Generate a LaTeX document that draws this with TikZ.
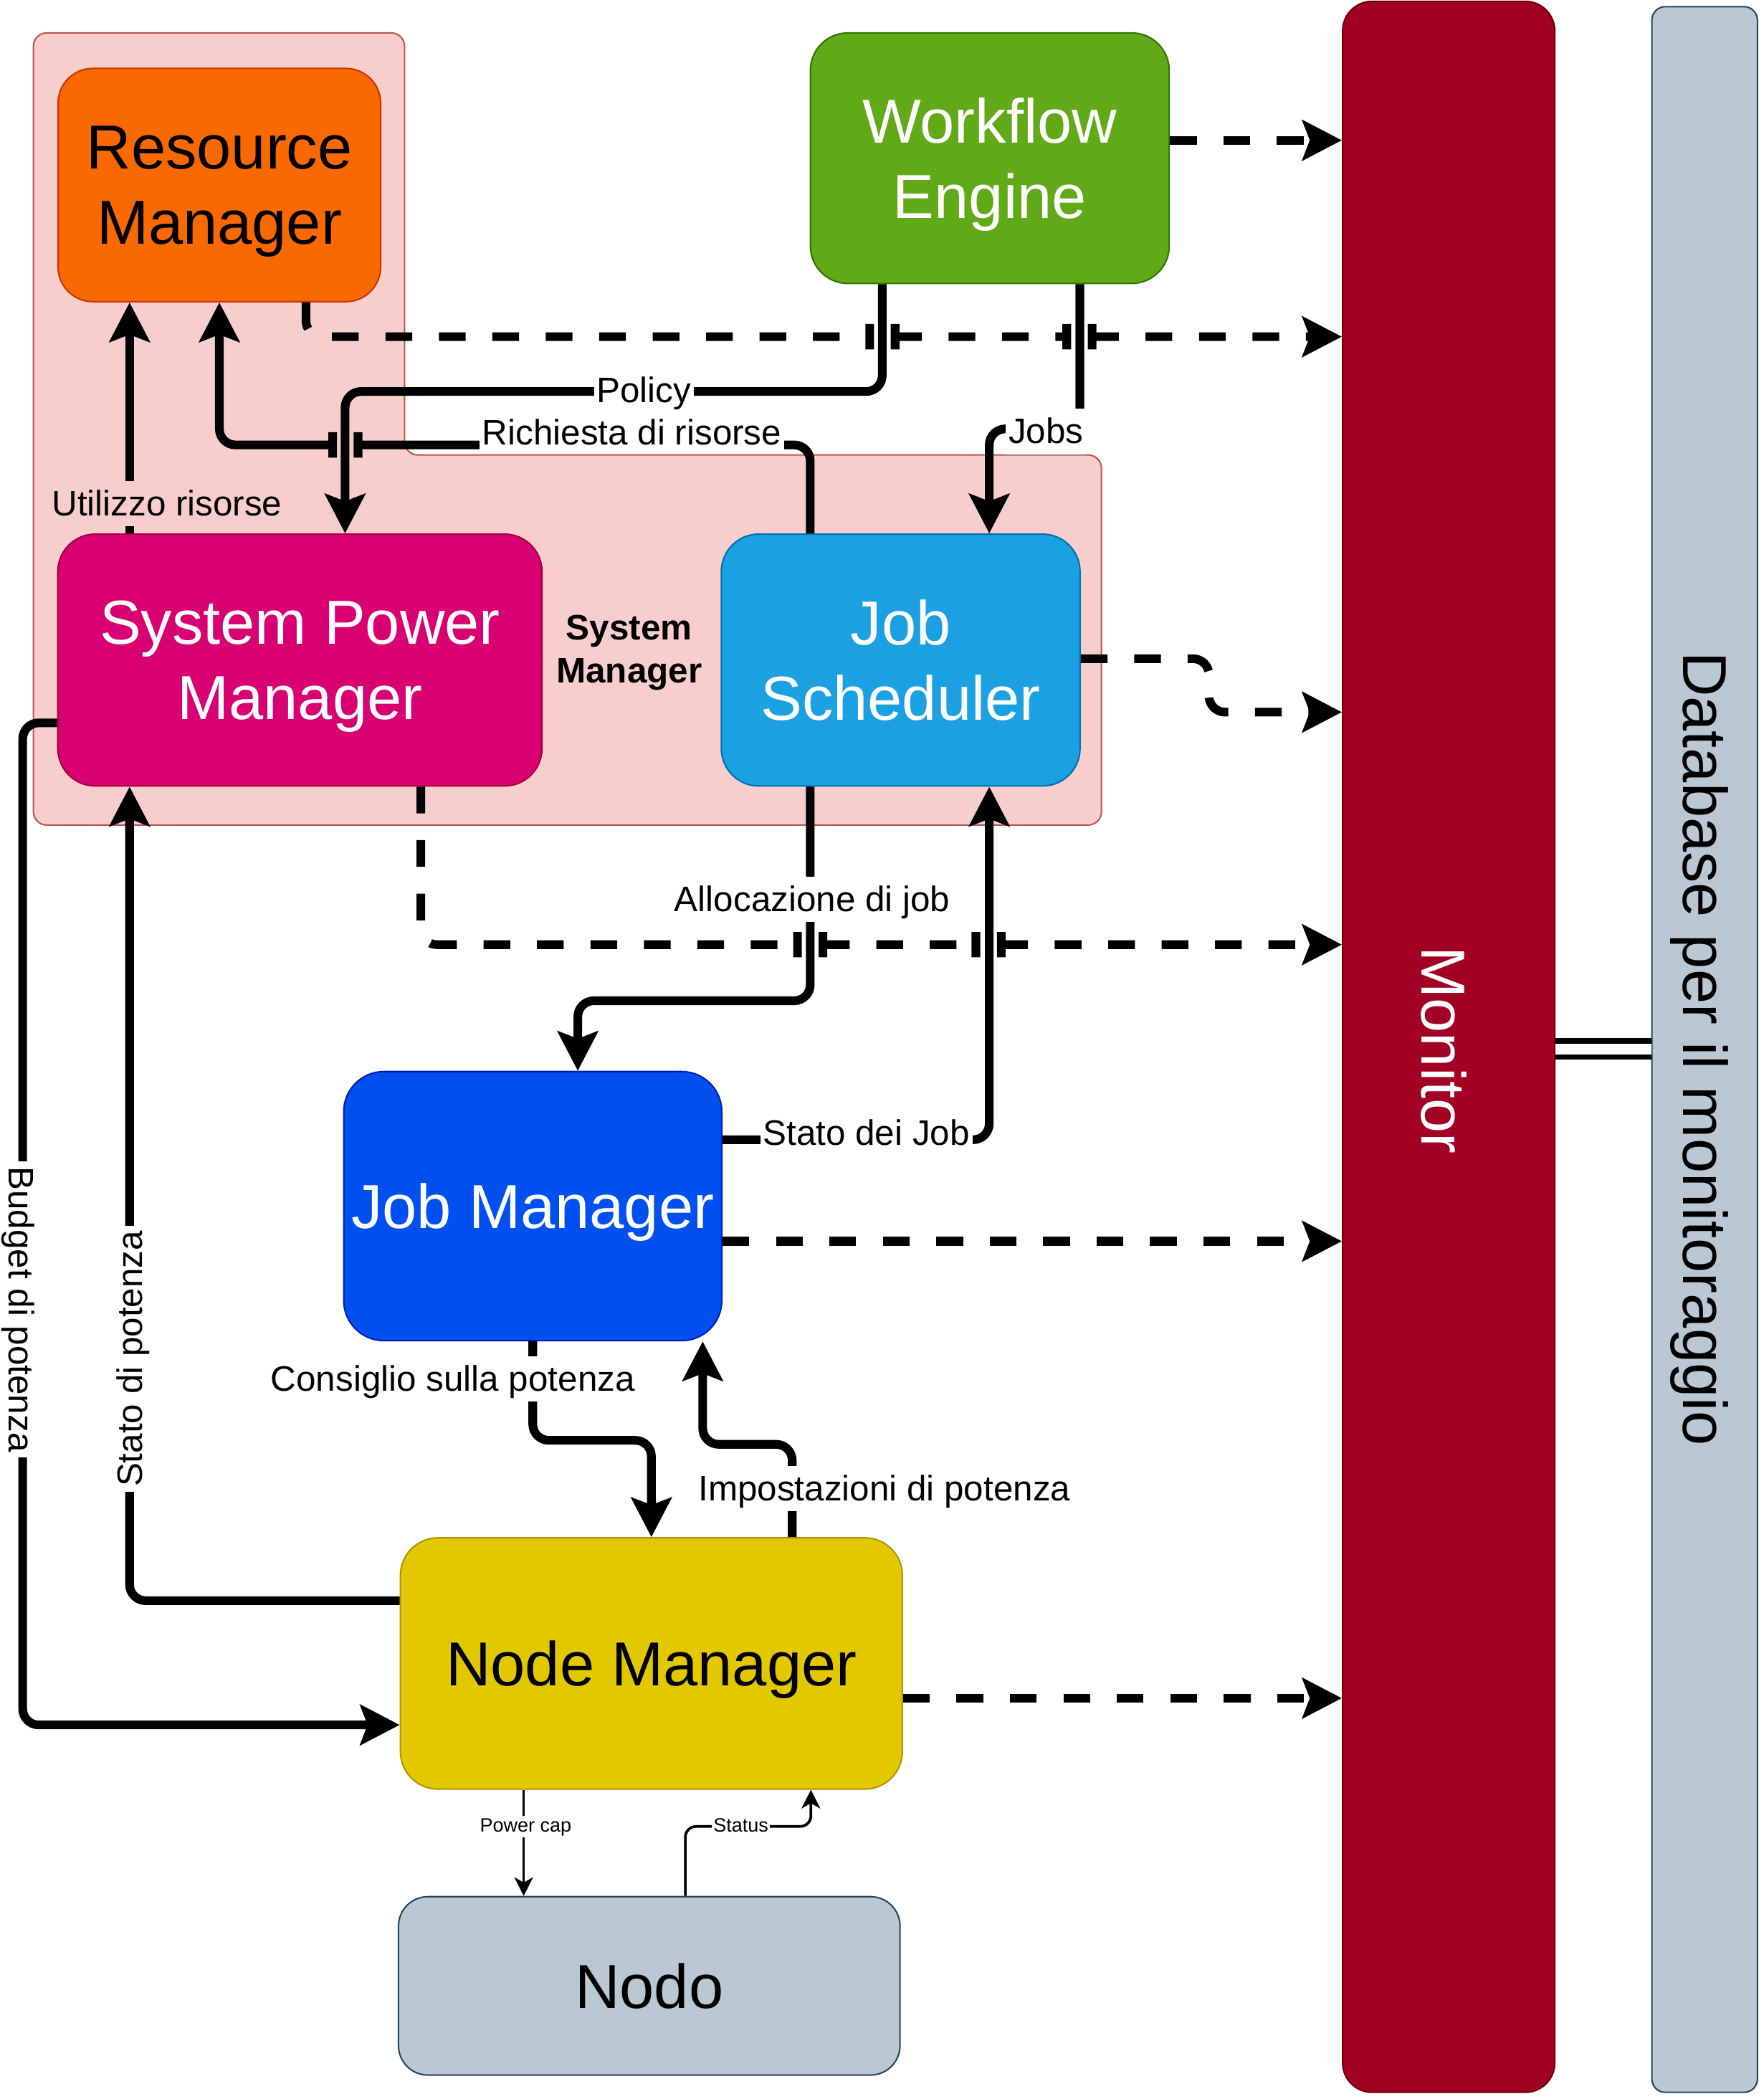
\documentclass[tikz,border=0pt]{standalone}
\usepackage{fontspec}
\setmainfont{Liberation Sans}
\usetikzlibrary{arrows.meta}
\definecolor{smfill}{HTML}{F8CECC}\definecolor{smdraw}{HTML}{B85450}
\definecolor{rmfill}{HTML}{FA6800}\definecolor{rmdraw}{HTML}{C73500}
\definecolor{wefill}{HTML}{60A917}\definecolor{wedraw}{HTML}{2D7600}
\definecolor{monfill}{HTML}{A20025}\definecolor{mondraw}{HTML}{6F0000}
\definecolor{dbfill}{HTML}{BAC8D3}\definecolor{dbdraw}{HTML}{23445D}
\definecolor{spmfill}{HTML}{D80073}\definecolor{spmdraw}{HTML}{A50040}
\definecolor{jsfill}{HTML}{1BA1E2}\definecolor{jsdraw}{HTML}{006EAF}
\definecolor{jmfill}{HTML}{0050EF}\definecolor{jmdraw}{HTML}{001DBC}
\definecolor{nmfill}{HTML}{E3C800}\definecolor{nmdraw}{HTML}{B09500}
\begin{document}
\begin{tikzpicture}[x=1pt,y=-1pt,
  box/.style={rectangle, rounded corners=#1, draw, line width=1.1pt, inner sep=0pt, align=center, text depth=0pt, font=\fontsize{46.5}{56}\selectfont},
  box/.default=28pt,
  bigtext/.style={font=\fontsize{46.5}{56}\selectfont, inner sep=0pt},
  conn/.style={line width=6.5pt, rounded corners=12pt},
  dashconn/.style={conn, dash pattern=on 20pt off 20pt},
  arr/.style={-{Stealth[length=29.5pt,width=30pt,inset=5.5pt]}},
  thinconn/.style={line width=2pt, rounded corners=8pt, -{Stealth[length=14pt,width=14pt,inset=4pt]}},
  lbl/.style={fill=white, inner sep=2pt, text height=24pt, text depth=6pt, font=\fontsize{26.5}{32}\selectfont, anchor=base},
  slbl/.style={fill=white, inner sep=1pt, text height=11pt, text depth=3pt, font=\fontsize{14.5}{17}\selectfont, anchor=base}
]
\useasboundingbox (0,0) rectangle (1320,1571);

% System Manager container
\draw[draw=smdraw, fill=smfill, line width=1.1pt, rounded corners=10pt]
  (25,24.6) -- (302.8,24.6) -- (302.8,340.5) -- (824.5,340.5) -- (824.5,617.5) -- (25,617.5) -- cycle;
\node[font=\bfseries\fontsize{26.5}{32}\selectfont, align=center, inner sep=0pt] (sysm) at (471,488.5) {System\\Manager};

% Boxes
\node[box=26pt, fill=rmfill, draw=rmdraw, minimum width=241.5pt, minimum height=174.6pt] (rm) at (164.2,138.5) {Resource\\Manager};
\node[box, fill=wefill, draw=wedraw, text=white, minimum width=268.6pt, minimum height=187.5pt] (we) at (740.9,118.4) {Workflow\\Engine};
\node[box=22pt, fill=monfill, draw=mondraw, minimum width=158.8pt, minimum height=1565pt] (mon) at (1084.4,783.5) {};
\node[bigtext, text=white, rotate=-90, anchor=base] (montxt) at (1064,786) {Monitor};
\node[box=10pt, fill=dbfill, draw=dbdraw, minimum width=79pt, minimum height=1561pt] (db) at (1276,785.5) {};
\node[bigtext, rotate=-90, anchor=base] (dbtxt) at (1260,785) {Database per il monitoraggio};
\node[box, fill=spmfill, draw=spmdraw, text=white, minimum width=362.4pt, minimum height=188.5pt] (spm) at (224.5,494) {System Power\\Manager};
\node[box, fill=jsfill, draw=jsdraw, text=white, minimum width=268.5pt, minimum height=188.5pt] (js) at (674.2,494) {Job\\Scheduler};
\node[box=30pt, fill=jmfill, draw=jmdraw, text=white, minimum width=283pt, minimum height=201.4pt] (jm) at (398.8,902.7) {Job Manager};
\node[box, fill=nmfill, draw=nmdraw, minimum width=375.7pt, minimum height=188pt] (nm) at (487.6,1245) {Node Manager};
\node[box=22pt, fill=dbfill, draw=dbdraw, minimum width=375.4pt, minimum height=133.5pt] (nodo) at (486,1486.3) {Nodo};

% Solid connectors
\draw[conn, arr] (97,0 |- spm.north) -- (97,0 |- rm.south);
\draw[conn, arr] (660.4,0 |- we.south) -- (660.4,293) -- (258.3,293) -- (258.3,0 |- spm.north);
\draw[conn, arr] (606.5,0 |- js.north) -- (606.5,333) -- (268,333)
  (268,323.5) -- (268,342.5) (249,323.5) -- (249,342.5)
  (249,333) -- (164.2,333) -- (164.2,0 |- rm.south);
\draw[conn, arr] (808.3,0 |- we.south) -- (808.3,321) -- (740.5,321) -- (740.5,0 |- js.north);
\draw[conn, arr] (606.5,0 |- js.south) -- (606.5,749) -- (432.5,749) -- (432.5,0 |- jm.north);
\draw[conn, arr] (jm.east |- 0,853) -- (740.5,853) -- (740.5,0 |- js.south);
\draw[conn, arr] (398.8,0 |- jm.south) -- (398.8,1078) -- (487.6,1078) -- (487.6,0 |- nm.north);
\draw[conn, arr] (593,0 |- nm.north) -- (593,1081) -- (526,1081) -- (526,0 |- jm.south);
\draw[conn, arr] (nm.west |- 0,1198) -- (97,1198) -- (97,0 |- spm.south);
\draw[conn, arr] (spm.west |- 0,541) -- (17,541) -- (17,1291) -- (nm.west |- 0,1291);
\draw[thinconn] (392,0 |- nm.south) -- (392,0 |- nodo.north);
\draw[thinconn] (513,0 |- nodo.north) -- (513,1367) -- (607,1367) -- (607,0 |- nm.south);

% Dashed connectors to the Monitor
\draw[dashconn, arr] (we.east |- 0,105) -- (mon.west |- 0,105);
\draw[dashconn, arr] (229,0 |- rm.south) -- (229,252) -- (651,252)
  (651,242.5) -- (651,261.5) (670,242.5) -- (670,261.5)
  (670,252) -- (798.5,252)
  (798.5,242.5) -- (798.5,261.5) (817.5,242.5) -- (817.5,261.5)
  (817.5,252) -- (mon.west |- 0,252);
\draw[dashconn, arr] (js.east |- 0,493) -- (905,493) -- (905,533) -- (mon.west |- 0,533);
\draw[dashconn, arr] (315,0 |- spm.south) -- (315,707) -- (597,707)
  (597,697.5) -- (597,716.5) (616,697.5) -- (616,716.5)
  (616,707) -- (730.5,707)
  (730.5,697.5) -- (730.5,716.5) (749.5,697.5) -- (749.5,716.5)
  (749.5,707) -- (mon.west |- 0,707);
\draw[dashconn, arr] (jm.east |- 0,929) -- (mon.west |- 0,929);
\draw[dashconn, arr] (nm.east |- 0,1271) -- (mon.west |- 0,1271);

% Monitor -- Database link
\draw[line width=4pt, double=white, double distance=8pt] (mon.east |- 0,785) -- (db.west |- 0,785);

% Labels
\node[lbl, fill=smfill] (lutil) at (125,386) {Utilizzo risorse};
\node[lbl] (lpol) at (482,301) {Policy};
\node[lbl, text depth=3pt] (lreq) at (473,333) {Richiesta di risorse};
\node[lbl] (ljobs) at (783,332) {Jobs};
\node[lbl] (lalloc) at (608,682) {Allocazione di job};
\node[lbl] (lstato) at (648.5,857) {Stato dei Job};
\node[lbl] (lcons) at (339,1041) {Consiglio sulla potenza};
\node[lbl] (limp) at (662,1123) {Impostazioni di potenza};
\node[lbl, rotate=90, anchor=center, text height=19pt, text depth=0pt, inner sep=4pt] (lsp) at (97,1017) {Stato di potenza};
\node[lbl, rotate=-90, anchor=center, text height=19pt, text depth=0pt, inner sep=4pt] (lbud) at (16,980) {Budget di potenza};
\node[slbl] (lpc) at (393.5,1371) {Power cap};
\node[slbl] (lst) at (554.6,1371) {Status};
\end{tikzpicture}
\end{document}
